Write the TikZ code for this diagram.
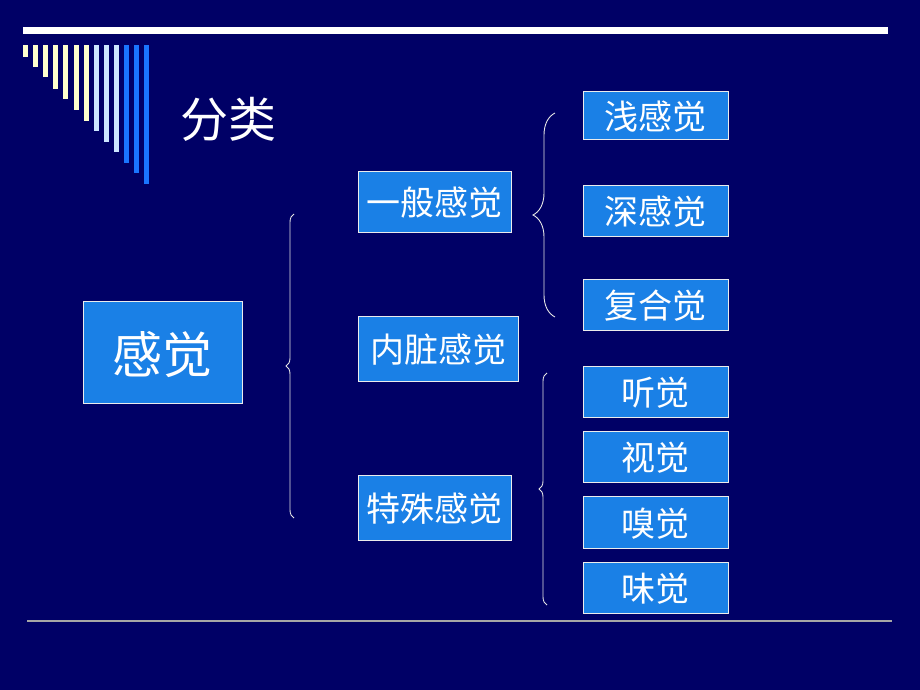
\documentclass[tikz,border=0pt]{standalone}
\usepackage{fontspec}
\newfontfamily\cjk{Noto Sans CJK SC}
\usetikzlibrary{decorations.pathreplacing}
\definecolor{navy}{HTML}{000066}
\definecolor{boxblue}{HTML}{1A80E6}
\definecolor{paleyellow}{HTML}{FFFFCC}
\definecolor{paleblue}{HTML}{CCE6FF}
\definecolor{stripeblue}{HTML}{1A75FF}
\tikzset{
  sensebox/.style={draw=white!85!gray, line width=0.8pt, fill=boxblue, text=white,
    inner sep=0pt, text depth=0pt, font=\cjk\fontsize{34}{40}\selectfont},
  curly/.style={draw=white!80!gray, line width=0.9pt, decorate,
    decoration={brace, amplitude=#1}},
}
\newcommand{\stripe}[4]{\fill[#4] (#1,45) rectangle (#2,#3);}

\begin{document}
\begin{tikzpicture}[x=1pt,y=-1pt]
        % background
        \fill[navy] (0,0) rectangle (920,690);
        \useasboundingbox (0,0) rectangle (920,690);
        \fill[white] (23,27) rectangle (888,34);
        \draw[gray!70, line width=1.5pt] (27,621) -- (892,621);

        % stripes
        \stripe{23}{27.5}{57}{paleyellow}
        \stripe{33}{37.5}{67}{paleyellow}
        \stripe{43}{47.5}{77}{paleyellow}
        \stripe{53}{57.5}{89}{paleyellow}
        \stripe{63}{67.5}{99}{paleyellow}
        \stripe{74}{78.5}{110}{paleyellow}
        \stripe{84}{88.5}{121}{paleyellow}
        \stripe{94}{98.5}{131}{paleblue}
        \stripe{104}{108.5}{142}{paleblue}
        \stripe{114}{118.5}{152}{paleblue}
        \stripe{124}{128.5}{163}{stripeblue}
        \stripe{134}{138.5}{173}{stripeblue}
        \stripe{144}{148.5}{184}{stripeblue}

        % title
        \node[text=white, text depth=0pt, font=\cjk\fontsize{48}{54}\selectfont] (heading) at (228,117) {分类};

        % level 1
        \node[sensebox, minimum width=159pt, minimum height=102pt,
          font=\cjk\fontsize{50}{56}\selectfont] (sense) at (162.5,352) {感觉};
        % level 2
        \node[sensebox, minimum width=153pt, minimum height=61pt] (general) at (434.5,201.5) {一般感觉};
        \node[sensebox, minimum width=160pt, minimum height=65pt] (visceral) at (438,348.5) {内脏感觉};
        \node[sensebox, minimum width=153pt, minimum height=65pt] (special) at (434.5,507.5) {特殊感觉};
        % level 3
        \node[sensebox, minimum width=145pt, minimum height=48pt] (shallow) at (655.5,115) {浅感觉};
        \node[sensebox, minimum width=145pt, minimum height=51pt] (deep) at (655.5,210.5) {深感觉};
        \node[sensebox, minimum width=145pt, minimum height=51pt] (compound) at (655.5,304.5) {复合觉};
        \node[sensebox, minimum width=145pt, minimum height=51pt] (hearing) at (655.5,391.5) {听觉};
        \node[sensebox, minimum width=145pt, minimum height=51pt] (vision) at (655.5,456.5) {视觉};
        \node[sensebox, minimum width=145pt, minimum height=52pt] (smell) at (655.5,522) {嗅觉};
        \node[sensebox, minimum width=145pt, minimum height=51pt] (taste) at (655.5,587.5) {味觉};

        % braces
        \coordinate (b1a) at (294,518);
        \coordinate (b1b) at (294,214);
        \coordinate (b2a) at (555,317);
        \coordinate (b2b) at (555,113);
        \coordinate (b3a) at (547,605);
        \coordinate (b3b) at (547,373);
        \draw[curly=8pt] (b1a) -- (b1b);
        \draw[curly=22pt] (b2a) -- (b2b);
        \draw[curly=8pt] (b3a) -- (b3b);
\end{tikzpicture}
\end{document}
